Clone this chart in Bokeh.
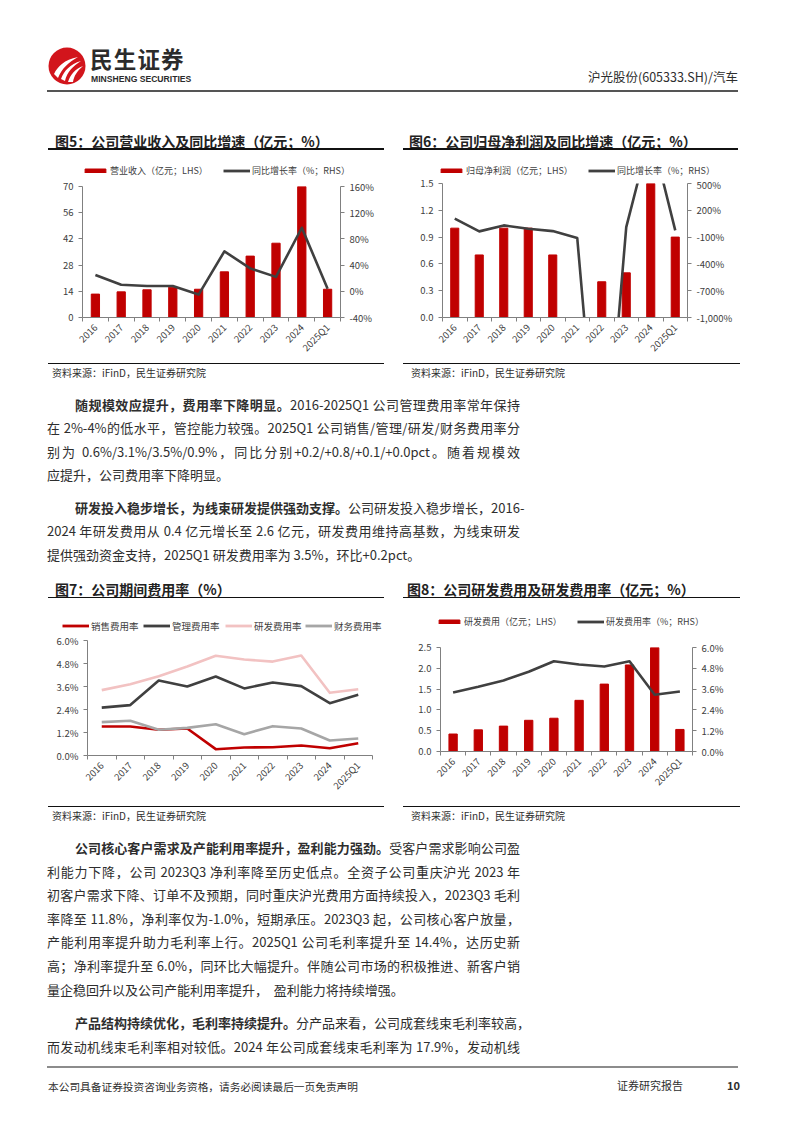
import math
from bokeh.plotting import figure
from bokeh.models import (Range1d, LinearAxis, FixedTicker, Legend, LegendItem,
                          Div, Spacer, PrintfTickFormatter)
from bokeh.layouts import column, row
from bokeh.embed import file_html
from bokeh.resources import INLINE

# ---------------- data ----------------
years = ["2016", "2017", "2018", "2019", "2020", "2021", "2022", "2023", "2024", "2025Q1"]

revenue = [12.5, 13.7, 14.8, 16.2, 15.1, 24.4, 32.8, 39.7, 70.0, 15.1]
revenue_yoy = [25, 10, 8, 8, -5, 61, 35, 22, 97, 4]
revenue_ticks = [0, 14, 28, 42, 56, 70]
revenue_yoy_ticks = [-40, 0, 40, 80, 120, 160]

net_profit = [1.0, 0.7, 1.0, 1.0, 0.7, 0.0, 0.4, 0.5, 1.5, 0.9]
net_profit_yoy = [106, -36, 31, -6, -33, -111, -3250, 12, 1080, -25]
net_profit_ticks = [0.0, 0.3, 0.6, 0.9, 1.2, 1.5]
net_profit_yoy_ticks = [-1000, -700, -400, -100, 200, 500]
net_profit_yoy_labels = ["-1,000%", "-700%", "-400%", "-100%", "200%", "500%"]

sales_rate = [1.51, 1.51, 1.34, 1.41, 0.33, 0.42, 0.43, 0.52, 0.38, 0.64]
admin_rate = [2.50, 2.63, 3.91, 3.60, 4.12, 3.50, 3.81, 3.62, 2.73, 3.17]
rd_rate = [3.41, 3.72, 4.14, 4.64, 5.20, 5.01, 4.90, 5.22, 3.27, 3.46]
fin_rate = [1.74, 1.81, 1.34, 1.44, 1.63, 1.11, 1.53, 1.41, 0.78, 0.89]
rate_ticks = [0.0, 1.2, 2.4, 3.6, 4.8, 6.0]

rd_expense = [0.42, 0.52, 0.61, 0.75, 0.80, 1.23, 1.62, 2.08, 2.50, 0.53]
rd_expense_rate = [3.40, 3.73, 4.10, 4.60, 5.21, 5.02, 4.90, 5.21, 3.27, 3.46]
rd_expense_ticks = [0.0, 0.5, 1.0, 1.5, 2.0, 2.5]

# ---------------- style ----------------
FONT = "Noto Sans CJK SC"
AX = "#808080"
LBL = "#404040"
RED = "#C00000"
DARK = "#404040"
PINK = "#F2C2C2"
GRAY = "#A6A6A6"
TXT = "#2e2e2e"
NAN = float("nan")

n = len(years)
xs = list(range(n))


def style_axis(ax):
    ax.axis_line_color = AX
    ax.axis_line_width = 1
    ax.major_tick_line_color = AX
    ax.major_tick_out = 4
    ax.major_tick_in = 0
    ax.minor_tick_line_color = None
    ax.major_label_text_font = FONT
    ax.major_label_text_font_size = "9.5px"
    ax.major_label_text_color = LBL
    ax.major_label_standoff = 5


def make_fig(w, h, bl, br, bt, bb, yr, yticks, yfmt):
    p = figure(width=w, height=h, x_range=Range1d(-0.5, n - 0.5), y_range=Range1d(*yr),
               output_backend="svg", toolbar_location=None, frame_align=False,
               min_border_left=bl, min_border_right=br, min_border_top=bt, min_border_bottom=bb)
    p.outline_line_color = None
    p.xgrid.visible = False
    p.ygrid.visible = False
    p.background_fill_color = "white"
    p.border_fill_color = "white"
    xa = p.xaxis[0]
    style_axis(xa)
    xa.ticker = FixedTicker(ticks=xs, minor_ticks=[i - 0.5 for i in range(n + 1)])
    xa.major_label_overrides = {i: y for i, y in enumerate(years)}
    xa.major_label_orientation = math.pi / 4
    xa.major_tick_line_color = None
    xa.minor_tick_line_color = AX
    xa.minor_tick_out = 4
    xa.minor_tick_in = 0
    xa.major_label_standoff = 4
    ya = p.yaxis[0]
    style_axis(ya)
    ya.ticker = FixedTicker(ticks=yticks)
    ya.formatter = PrintfTickFormatter(format=yfmt)
    return p


def add_rhs(p, yr, ticks, fmt=None, overrides=None):
    p.extra_y_ranges = {"rhs": Range1d(*yr)}
    ax = LinearAxis(y_range_name="rhs", ticker=FixedTicker(ticks=ticks))
    style_axis(ax)
    if fmt:
        ax.formatter = PrintfTickFormatter(format=fmt)
    if overrides:
        ax.major_label_overrides = overrides
    p.add_layout(ax, "right")


def legend_fig(w, h, entries, vy, size="9px", gh=5):
    """entries: list of (kind, color, label, x_offset, glyph_width)"""
    lf = figure(width=w, height=h, x_range=Range1d(0, 1), y_range=Range1d(0, 1),
                output_backend="svg", toolbar_location=None, frame_align=False,
                x_axis_type=None, y_axis_type=None,
                min_border_left=0, min_border_right=0, min_border_top=0, min_border_bottom=0)
    lf.outline_line_color = None
    lf.xgrid.visible = False
    lf.ygrid.visible = False
    lf.border_fill_color = "white"
    for kind, color, label, vx, gw in entries:
        if kind == "bar":
            r = lf.vbar(x=[NAN], top=[NAN], width=0.3, color=color)
        else:
            r = lf.line(x=[NAN, NAN], y=[NAN, NAN], line_color=color, line_width=2.8)
        lg = Legend(items=[LegendItem(label=label, renderers=[r])], location=(vx, vy),
                    orientation="horizontal", glyph_width=gw, glyph_height=gh,
                    label_standoff=2, padding=0, margin=0, spacing=0,
                    border_line_color=None, background_fill_alpha=0,
                    label_text_font=FONT, label_text_font_size=size,
                    label_text_color=LBL, label_height=12)
        lf.add_layout(lg)
    return lf


# ---------------- chart 5 ----------------
p5 = make_fig(336, 185, 34, 44, 9, 45, (0, 70), revenue_ticks, "%d")
add_rhs(p5, (-40, 160), revenue_yoy_ticks, fmt="%d%%")
p5.vbar(x=xs, top=revenue, width=0.32, color=RED)
p5.line(xs, revenue_yoy, y_range_name="rhs", line_color=DARK, line_width=2.6, line_join="round")
lg5 = legend_fig(336, 26, [("bar", RED, "营业收入（亿元；LHS）", 34, 26),
                           ("line", DARK, "同比增长率（%；RHS）", 175, 27)], 0.5)

# ---------------- chart 6 ----------------
p6 = make_fig(337, 185, 39, 53, 6, 45, (0, 1.5), net_profit_ticks, "%.1f")
add_rhs(p6, (-1000, 500), net_profit_yoy_ticks,
        overrides={t: s for t, s in zip(net_profit_yoy_ticks, net_profit_yoy_labels)})
p6.vbar(x=xs, top=net_profit, width=0.33, color=RED)
p6.line(xs, net_profit_yoy, y_range_name="rhs", line_color=DARK, line_width=2.6, line_join="round")
lg6 = legend_fig(337, 26, [("bar", RED, "归母净利润（亿元；LHS）", 35, 26),
                           ("line", DARK, "同比增长率（%；RHS）", 185, 27)], 0.5)

# ---------------- chart 7 ----------------
p7 = make_fig(336, 173, 39, 12, 7, 51, (0, 6.0), rate_ticks, "%.1f%%")
p7.line(xs, sales_rate, line_color=RED, line_width=2.6, line_join="round")
p7.line(xs, admin_rate, line_color=DARK, line_width=2.6, line_join="round")
p7.line(xs, rd_rate, line_color=PINK, line_width=2.6, line_join="round")
p7.line(xs, fin_rate, line_color=GRAY, line_width=2.6, line_join="round")
lg7 = legend_fig(336, 35, [("line", RED, "销售费用率", 14, 27),
                           ("line", DARK, "管理费用率", 95, 27),
                           ("line", PINK, "研发费用率", 177, 27),
                           ("line", GRAY, "财务费用率", 257, 27)], 0.5, size="9.5px")

# ---------------- chart 8 ----------------
p8 = make_fig(337, 173, 37, 48, 14, 55, (0, 2.5), rd_expense_ticks, "%.1f")
add_rhs(p8, (0, 6.0), rate_ticks, fmt="%.1f%%")
p8.vbar(x=xs, top=rd_expense, width=0.33, color=RED)
p8.line(xs, rd_expense_rate, y_range_name="rhs", line_color=DARK, line_width=2.6, line_join="round")
lg8 = legend_fig(337, 35, [("bar", RED, "研发费用（亿元；LHS）", 33, 26),
                           ("line", DARK, "研发费用率（%；RHS）", 174, 27)], 5.3)


# ---------------- html helpers ----------------
def t(x, yc, s, size, bold=False, color=TXT, right=None, extra="", lh=1.4):
    h = round(size * lh, 1)
    pos = f"right:{right}px;" if right is not None else f"left:{x}px;"
    w = "700" if bold else "400"
    return (f'<div style="position:absolute;{pos}top:{yc - h / 2}px;height:{h}px;line-height:{h}px;'
            f'font-size:{size}px;font-weight:{w};color:{color};white-space:nowrap;{extra}">{s}</div>')


def hline(x, y, w, th, color):
    return f'<div style="position:absolute;left:{x}px;top:{y - th / 2}px;width:{w}px;height:{th}px;background:{color};"></div>'


def box(w, h, inner):
    return (f'<div style="position:relative;width:{w}px;height:{h}px;font-family:\'{FONT}\';'
            f'overflow:visible;">{inner}</div>')


def mkdiv(w, h, inner):
    return Div(text=box(w, h, inner), width=w, height=h, margin=0)


def pline(x, yc, w, s, last=False):
    al = "left" if last else "justify"
    return (f'<div style="position:absolute;left:{x}px;top:{yc - 10}px;width:{w}px;height:20px;'
            f'line-height:20px;font-size:13px;color:{TXT};text-align:{al};text-align-last:{al};'
            f'white-space:nowrap;">{s}</div>')


def para(lines, page_top, last_is_short=True):
    out = []
    for i, (s, yc) in enumerate(lines):
        ind = i == 0
        last = last_is_short and i == len(lines) - 1
        x = 75 if ind else 47
        w = 445 if ind else 473
        out.append(pline(x, yc - page_top, w, s, last))
    return "".join(out)


def b(s):
    return f'<span style="font-weight:700;">{s}</span>'


PW = 780  # width of full-page blocks

# ---------------- header (page coords) ----------------
logo = ('<svg style="position:absolute;left:48px;top:47px;" width="38" height="38" viewBox="0 0 38 38">'
        '<circle cx="19" cy="19" r="18.5" fill="#D2151C"/>'
        '<path d="M6 27 C10 19 16 13 30 10 C21 15 14 21 10 31 Z" fill="white"/>'
        '<path d="M13 32 C16 24 22 17 33 14 C25 19 19 25 17 34 Z" fill="white"/>'
        '<path d="M20 35 C22 28 27 22 35 19 C29 24 26 29 25 35 Z" fill="white"/>'
        '</svg>')
header_inner = (logo
                + t(90, 58.5, "民生证券", 22.5, bold=True, color="#2b2b2b", extra="letter-spacing:1.2px;", lh=1.0)
                + t(91, 79.5, "MINSHENG SECURITIES", 8.6, bold=True, color="#2b2b2b",
                    extra="font-family:'Liberation Sans Narrow','Liberation Sans';", lh=1.1)
                + t(0, 77, "沪光股份(605333.SH)/汽车", 12.5, color=TXT, right=PW - 738)
                + hline(47, 91, 691, 1.5, "#555555"))
header = mkdiv(PW, 130, header_inner)


def title_div(w, h, s, tx, ty, ly, lx=0, lw=None):
    inner = t(tx, ty, s, 14, bold=True, color="#222222") + hline(lx, ly, lw or w, 1.5, "#111111")
    return mkdiv(w, h, inner)


def source_div(w, h, tx, ty, ly):
    inner = hline(0, ly, w, 1.2, "#111111") + t(tx, ty, "资料来源：iFinD，民生证券研究院", 10, color=TXT)
    return mkdiv(w, h, inner)


col5 = column(title_div(336, 21, "图5：公司营业收入及同比增速（亿元；%）", 7, 12, 19),
              lg5, p5, source_div(336, 20, 4, 11, 1.3), spacing=0)
col6 = column(title_div(337, 21, "图6：公司归母净利润及同比增速（亿元；%）", 6, 12, 19, 0, 335),
              lg6, p6, source_div(337, 20, 8, 11, 1.3), spacing=0)
row1 = row(Spacer(width=48, height=252), col5, Spacer(width=19, height=252), col6, spacing=0)

p1 = [
    (b("随规模效应提升，费用率下降明显。") + "2016-2025Q1 公司管理费用率常年保持", 404.5),
    ("在 2%-4%的低水平，管控能力较强。2025Q1 公司销售/管理/研发/财务费用率分", 428),
    ("别为 0.6%/3.1%/3.5%/0.9%，同比分别+0.2/+0.8/+0.1/+0.0pct。随着规模效", 451.5),
    ("应提升，公司费用率下降明显。", 475),
]
p2 = [
    (b("研发投入稳步增长，为线束研发提供强劲支撑。") + "公司研发投入稳步增长，2016-", 507.5),
    ("2024 年研发费用从 0.4 亿元增长至 2.6 亿元，研发费用维持高基数，为线束研发", 531),
    ("提供强劲资金支持，2025Q1 研发费用率为 3.5%，环比+0.2pct。", 554.5),
]
text1 = mkdiv(PW, 196, para(p1, 382) + para(p2, 382))

col7 = column(title_div(336, 20, "图7：公司期间费用率（%）", 7, 12, 19.3),
              lg7, p7, source_div(336, 24, 4, 9.5, 0.5), spacing=0)
col8 = column(title_div(337, 20, "图8：公司研发费用及研发费用率（亿元；%）", 4, 12, 19.3, 0, 337),
              lg8, p8, source_div(337, 24, 8, 9.5, 0.5), spacing=0)
row2 = row(Spacer(width=48, height=252), col7, Spacer(width=19, height=252), col8, spacing=0)

p3 = [
    (b("公司核心客户需求及产能利用率提升，盈利能力强劲。") + "受客户需求影响公司盈", 848),
    ("利能力下降，公司 2023Q3 净利率降至历史低点。全资子公司重庆沪光 2023 年", 871.5),
    ("初客户需求下降、订单不及预期，同时重庆沪光费用方面持续投入，2023Q3 毛利", 895),
    ("率降至 11.8%，净利率仅为-1.0%，短期承压。2023Q3 起，公司核心客户放量，", 918.5),
    ("产能利用率提升助力毛利率上行。2025Q1 公司毛利率提升至 14.4%，达历史新", 942),
    ("高；净利率提升至 6.0%，同环比大幅提升。伴随公司市场的积极推进、新客户销", 966),
    ("量企稳回升以及公司产能利用率提升，&nbsp;&nbsp;盈利能力将持续增强。", 990),
]
p4 = [
    (b("产品结构持续优化，毛利率持续提升。") + "分产品来看，公司成套线束毛利率较高，", 1023),
    ("而发动机线束毛利率相对较低。2024 年公司成套线束毛利率为 17.9%，发动机线", 1047),
]
text2 = mkdiv(PW, 228, para(p3, 830) + para(p4, 830, last_is_short=False))

footer_inner = (hline(47, 9, 691, 1.5, "#8c8c8c")
                + t(48, 28, "本公司具备证券投资咨询业务资格，请务必阅读最后一页免责声明", 10.7, color=TXT)
                + t(617, 28, "证券研究报告", 11, color=TXT)
                + t(727, 28, "10", 11, bold=True, color=TXT))
footer = mkdiv(PW, 57, footer_inner)

page = column(header, row1, text1, row2, text2, footer, spacing=0)

open("out.html", "w").write(file_html(page, INLINE))
